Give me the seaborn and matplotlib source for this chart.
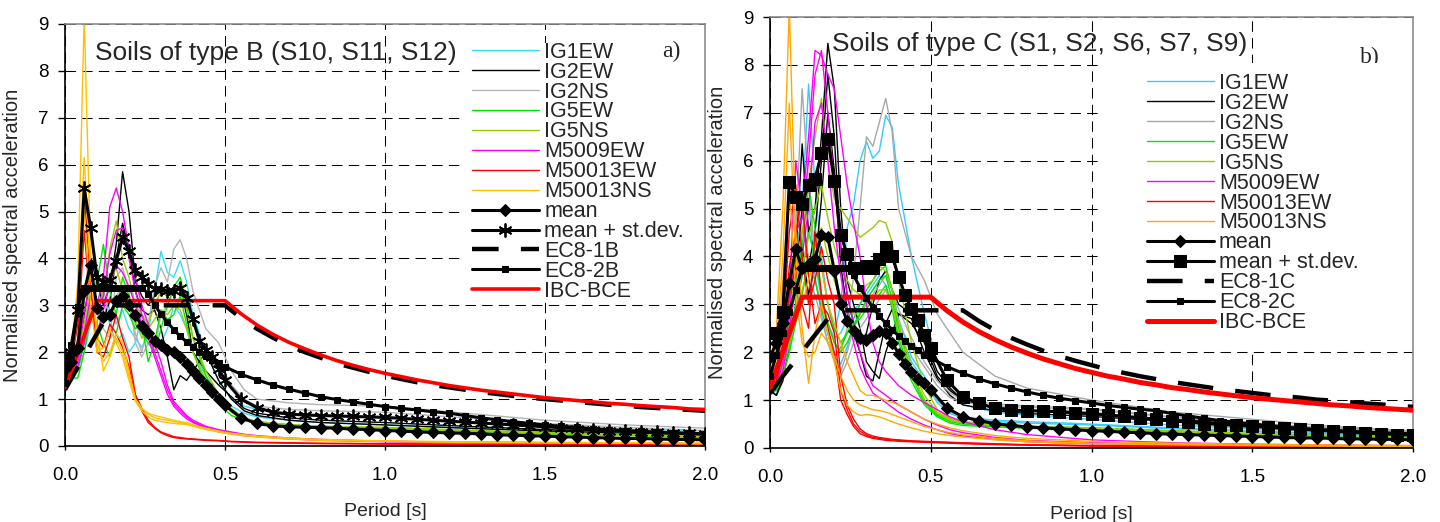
"""
Normalised response spectra of the recorded motions against the code spectra,
soils of type B (left) and type C (right).
"""

import matplotlib
matplotlib.use("Agg")
import matplotlib.pyplot as plt
import seaborn as sns
from matplotlib.patches import Rectangle

sns.set_style("white")
plt.rcParams['font.family'] = ['Liberation Sans', 'DejaVu Sans']

# --- periods [s]
period_rec = [0.0, 0.02, 0.04, 0.06, 0.08, 0.10, 0.12, 0.14, 0.16, 0.18, 0.20, 0.22, 0.24,
              0.26, 0.28, 0.30, 0.32, 0.34, 0.36, 0.38, 0.40, 0.44, 0.48, 0.52, 0.56, 0.60,
              0.70, 0.80, 1.00, 1.25, 1.50, 1.75, 2.00]
period = [0.00, 0.02, 0.04, 0.06, 0.08, 0.10, 0.12, 0.14, 0.16, 0.18, 0.20, 0.22, 0.24,
          0.26, 0.28, 0.30, 0.32, 0.34, 0.36, 0.38, 0.40, 0.42, 0.44, 0.46, 0.48, 0.50,
          0.55, 0.60, 0.65, 0.70, 0.75, 0.80, 0.85, 0.90, 0.95, 1.00,
          1.05, 1.10, 1.15, 1.20, 1.25, 1.30, 1.35, 1.40, 1.45, 1.50,
          1.55, 1.60, 1.65, 1.70, 1.75, 1.80, 1.85, 1.90, 1.95, 2.00]

rec_names = ['IG1EW', 'IG2EW', 'IG2NS', 'IG5EW', 'IG5NS', 'M5009EW', 'M50013EW', 'M50013NS']

# ---------------- soils of type B (S10, S11, S12)
sb_IG1EW = [
    [1.5, 1.6, 1.9, 2.4, 2.8, 3.0, 3.3, 2.9, 2.6, 2.9, 2.5, 2.3, 2.1, 2.4, 3.3, 4.15, 3.7, 3.6, 3.95, 3.5, 2.8,
     2.0, 1.4, 1.0, 0.85, 0.78, 0.7, 0.65, 0.6, 0.5, 0.42, 0.36, 0.32],
    [1.4, 1.5, 1.7, 2.0, 2.6, 3.7, 3.1, 2.6, 2.2, 2.4, 2.0, 2.2, 2.8, 2.5, 2.3, 2.2, 2.5, 3.0, 2.8, 2.5, 2.0,
     1.5, 1.1, 0.85, 0.7, 0.62, 0.55, 0.5, 0.45, 0.38, 0.32, 0.28, 0.25]]
sb_IG2EW = [
    [1.6, 1.7, 2.2, 3.2, 4.0, 3.5, 3.0, 3.4, 4.3, 5.85, 5.0, 3.5, 3.2, 3.0, 3.2, 3.3, 3.2, 3.3, 3.4, 2.8, 2.0,
     1.6, 1.3, 1.05, 0.8, 0.7, 0.6, 0.55, 0.5, 0.42, 0.35, 0.3, 0.25],
    [1.5, 1.6, 2.0, 2.8, 3.6, 3.0, 2.7, 3.1, 4.0, 4.75, 4.2, 3.3, 2.9, 2.8, 2.9, 2.5, 1.9, 1.2, 1.5, 1.4, 1.6,
     2.0, 1.4, 1.0, 0.75, 0.65, 0.55, 0.5, 0.45, 0.38, 0.32, 0.27, 0.22]]
sb_IG2NS = [
    [1.5, 1.6, 2.0, 3.0, 4.5, 3.6, 3.2, 2.8, 3.2, 3.4, 3.0, 2.4, 2.0, 2.6, 3.4, 3.8, 3.5, 4.2, 4.4, 4.0, 3.3,
     2.5, 2.2, 1.6, 1.2, 1.0, 0.92, 0.88, 0.85, 0.7, 0.55, 0.45, 0.38],
    [1.4, 1.5, 1.8, 2.5, 3.2, 2.9, 2.5, 2.3, 3.6, 3.8, 3.3, 2.2, 1.9, 2.2, 2.0, 2.8, 3.0, 3.3, 3.5, 3.1, 2.6,
     2.0, 1.8, 1.3, 1.0, 0.85, 0.78, 0.75, 0.72, 0.6, 0.48, 0.4, 0.33]]
sb_IG5EW = [
    [1.5, 1.45, 1.45, 2.0, 2.8, 3.5, 4.3, 3.3, 2.8, 3.6, 3.2, 2.6, 2.4, 2.2, 2.0, 2.5, 3.0, 3.4, 3.6, 3.0, 2.3,
     1.5, 1.0, 0.75, 0.6, 0.52, 0.45, 0.42, 0.38, 0.32, 0.28, 0.24, 0.2],
    [1.4, 1.5, 1.6, 2.2, 3.0, 2.6, 2.2, 1.9, 2.4, 3.0, 2.8, 2.5, 2.6, 1.8, 2.2, 2.9, 2.7, 2.8, 3.2, 2.6, 2.0,
     1.3, 0.9, 0.65, 0.55, 0.48, 0.42, 0.38, 0.35, 0.3, 0.26, 0.22, 0.18]]
sb_IG5NS = [
    [1.5, 1.6, 1.9, 2.6, 3.4, 3.0, 3.2, 4.2, 4.8, 4.0, 3.6, 3.0, 2.8, 2.6, 3.0, 3.3, 3.2, 3.4, 3.3, 2.9, 2.3,
     1.6, 1.1, 0.8, 0.6, 0.52, 0.46, 0.42, 0.4, 0.34, 0.29, 0.25, 0.21],
    [1.4, 1.5, 1.8, 2.4, 3.0, 2.6, 3.4, 3.5, 3.8, 3.3, 3.1, 2.7, 2.3, 2.5, 2.7, 2.9, 2.8, 3.0, 2.9, 2.5, 2.0,
     1.4, 1.0, 0.72, 0.55, 0.48, 0.43, 0.4, 0.37, 0.32, 0.27, 0.23, 0.2]]
sb_M5009EW = [
    [1.5, 1.6, 2.0, 2.8, 3.6, 3.0, 3.6, 5.1, 5.5, 5.0, 4.2, 3.6, 3.0, 2.6, 2.2, 1.8, 1.3, 0.95, 0.8, 0.65, 0.55,
     0.42, 0.35, 0.3, 0.25, 0.22, 0.17, 0.14, 0.1, 0.08, 0.07, 0.06, 0.05],
    [1.4, 1.5, 1.8, 2.4, 3.2, 2.8, 3.2, 4.1, 4.6, 4.65, 4.0, 3.3, 2.8, 2.4, 2.0, 1.6, 1.2, 0.9, 0.75, 0.62, 0.52,
     0.4, 0.33, 0.28, 0.24, 0.21, 0.16, 0.13, 0.1, 0.08, 0.07, 0.06, 0.05],
    [1.4, 1.5, 1.7, 2.2, 2.8, 2.4, 2.9, 3.5, 3.85, 3.7, 3.4, 3.0, 2.6, 2.3, 1.9, 1.5, 1.1, 0.85, 0.7, 0.58, 0.5,
     0.38, 0.3, 0.26, 0.22, 0.2, 0.15, 0.12, 0.09, 0.07, 0.06, 0.05, 0.04]]
sb_M50013EW = [
    [1.5, 1.8, 2.6, 5.4, 3.5, 2.0, 1.9, 2.3, 2.8, 2.3, 1.9, 1.1, 0.8, 0.55, 0.4, 0.3, 0.25, 0.2, 0.18, 0.16, 0.15,
     0.13, 0.12, 0.1, 0.09, 0.08, 0.07, 0.06, 0.05, 0.04, 0.03, 0.03, 0.02],
    [1.4, 1.7, 2.3, 4.6, 3.0, 2.3, 2.1, 2.6, 2.4, 2.1, 1.7, 1.05, 0.75, 0.5, 0.38, 0.28, 0.22, 0.18, 0.16, 0.15, 0.14,
     0.12, 0.11, 0.09, 0.08, 0.07, 0.06, 0.05, 0.04, 0.03, 0.03, 0.02, 0.02]]
sb_M50013NS = [
    [1.5, 2.0, 3.5, 9.2, 4.0, 2.2, 1.8, 2.0, 2.4, 2.2, 1.6, 1.0, 0.8, 0.7, 0.65, 0.62, 0.58, 0.55, 0.52, 0.5, 0.45,
     0.38, 0.32, 0.27, 0.24, 0.21, 0.17, 0.14, 0.11, 0.09, 0.08, 0.07, 0.06],
    [1.4, 1.9, 3.2, 6.15, 3.6, 2.5, 1.6, 1.9, 2.3, 2.0, 1.5, 1.0, 0.8, 0.68, 0.6, 0.57, 0.55, 0.52, 0.5, 0.48, 0.44,
     0.37, 0.31, 0.26, 0.23, 0.2, 0.16, 0.13, 0.1, 0.08, 0.07, 0.06, 0.05],
    [1.4, 1.8, 2.8, 5.0, 3.0, 2.0, 2.1, 2.5, 2.2, 1.9, 1.4, 0.95, 0.75, 0.62, 0.55, 0.52, 0.5, 0.48, 0.47, 0.46, 0.42,
     0.35, 0.3, 0.25, 0.22, 0.19, 0.15, 0.12, 0.1, 0.08, 0.07, 0.06, 0.05]]

sb_mean = [1.65, 1.80, 2.10, 3.30, 3.85, 2.95, 2.75, 2.80, 3.10, 3.20, 3.00, 2.80, 2.55,
           2.40, 2.25, 2.15, 2.05, 2.00, 1.90, 1.75, 1.60, 1.45, 1.30, 1.15, 1.00, 0.87,
           0.60, 0.48, 0.43, 0.41, 0.40, 0.39, 0.38, 0.36, 0.35, 0.33,
           0.32, 0.30, 0.29, 0.28, 0.27, 0.26, 0.24, 0.23, 0.22, 0.21,
           0.20, 0.19, 0.18, 0.17, 0.16, 0.16, 0.15, 0.14, 0.14, 0.13]
sb_mean_sd = [1.90, 2.00, 2.90, 5.50, 4.65, 3.60, 3.50, 3.55, 3.95, 4.45, 4.15, 3.75, 3.60,
              3.45, 3.35, 3.35, 3.30, 3.30, 3.38, 3.15, 2.70, 2.25, 2.05, 1.90, 1.65, 1.40,
              1.00, 0.82, 0.72, 0.68, 0.66, 0.65, 0.64, 0.63, 0.62, 0.61,
              0.59, 0.57, 0.55, 0.53, 0.51, 0.49, 0.47, 0.45, 0.43, 0.41,
              0.39, 0.37, 0.35, 0.33, 0.32, 0.30, 0.29, 0.28, 0.27, 0.26]
sb_ec8_1 = [1.20, 1.44, 1.68, 1.92, 2.16, 2.40, 2.64, 2.88, 3.00, 3.00, 3.00, 3.00, 3.00,
            3.00, 3.00, 3.00, 3.00, 3.00, 3.00, 3.00, 3.00, 3.00, 3.00, 3.00, 3.00, 3.00,
            2.73, 2.50, 2.31, 2.14, 2.00, 1.88, 1.76, 1.67, 1.58, 1.50,
            1.43, 1.36, 1.30, 1.25, 1.20, 1.15, 1.11, 1.07, 1.03, 1.00,
            0.97, 0.94, 0.91, 0.88, 0.86, 0.83, 0.81, 0.79, 0.77, 0.75]
sb_ec8_2 = [1.35, 2.16, 2.97, 3.375, 3.375, 3.375, 3.375, 3.375, 3.375, 3.375, 3.375, 3.375, 3.375,
            3.25, 3.01, 2.81, 2.64, 2.48, 2.34, 2.22, 2.11, 2.01, 1.92, 1.83, 1.76, 1.69,
            1.53, 1.41, 1.30, 1.21, 1.13, 1.05, 0.99, 0.94, 0.89, 0.84,
            0.80, 0.77, 0.73, 0.70, 0.65, 0.60, 0.56, 0.52, 0.48, 0.45,
            0.42, 0.40, 0.37, 0.35, 0.33, 0.31, 0.30, 0.28, 0.27, 0.25]
sb_ibc = [1.24, 1.61, 1.98, 2.36, 2.73, 3.10, 3.10, 3.10, 3.10, 3.10, 3.10, 3.10, 3.10,
          3.10, 3.10, 3.10, 3.10, 3.10, 3.10, 3.10, 3.10, 3.10, 3.10, 3.10, 3.10, 3.10,
          2.82, 2.58, 2.38, 2.21, 2.07, 1.94, 1.82, 1.72, 1.63, 1.55,
          1.48, 1.41, 1.35, 1.29, 1.24, 1.19, 1.15, 1.11, 1.07, 1.03,
          1.00, 0.97, 0.94, 0.91, 0.89, 0.86, 0.84, 0.82, 0.79, 0.78]

# ---------------- soils of type C (S1, S2, S6, S7, S9)
sc_IG1EW = [
    [1.2, 1.3, 1.8, 2.8, 4.0, 5.0, 7.6, 5.5, 4.0, 3.0, 2.4, 3.0, 4.6, 5.1, 6.0, 6.4, 6.05, 6.2, 6.95, 6.7, 5.5,
     4.0, 2.8, 1.8, 1.25, 0.9, 0.75, 0.68, 0.6, 0.48, 0.4, 0.34, 0.3],
    [1.15, 1.2, 1.6, 2.4, 3.4, 4.5, 5.2, 3.6, 2.8, 2.2, 1.9, 1.75, 2.1, 2.6, 2.8, 3.1, 3.3, 3.5, 3.7, 3.3, 2.7,
     1.9, 1.5, 1.0, 0.75, 0.65, 0.58, 0.55, 0.5, 0.42, 0.36, 0.3, 0.26],
    [1.1, 1.2, 1.5, 2.0, 2.8, 3.6, 4.6, 3.9, 3.1, 2.6, 2.3, 2.4, 2.7, 2.9, 3.0, 3.2, 3.4, 3.6, 3.4, 3.0, 2.5,
     1.8, 1.4, 0.95, 0.72, 0.62, 0.55, 0.52, 0.48, 0.4, 0.34, 0.29, 0.25]]
sc_IG2EW = [
    [1.3, 1.2, 1.6, 2.8, 4.0, 6.35, 4.5, 5.0, 6.5, 8.45, 7.5, 5.0, 3.5, 3.0, 2.5, 1.8, 1.6, 1.45, 2.0, 2.4, 2.8,
     2.6, 2.2, 1.5, 1.2, 1.0, 0.85, 0.78, 0.7, 0.58, 0.48, 0.4, 0.34],
    [1.2, 1.1, 1.5, 2.5, 3.5, 5.0, 3.8, 4.5, 6.0, 7.8, 6.5, 4.2, 3.2, 2.6, 2.2, 2.4, 3.0, 3.5, 3.7, 3.3, 3.0,
     2.8, 2.3, 1.6, 1.25, 1.0, 0.85, 0.78, 0.72, 0.6, 0.5, 0.42, 0.35],
    [1.2, 1.1, 1.4, 2.2, 3.0, 4.2, 3.2, 3.8, 5.2, 7.0, 5.8, 3.8, 2.9, 2.4, 2.0, 1.5, 1.4, 2.0, 2.6, 2.9, 2.8,
     2.7, 2.0, 1.45, 1.1, 0.9, 0.78, 0.72, 0.66, 0.55, 0.46, 0.38, 0.32]]
sc_IG2NS = [
    [1.3, 1.4, 1.9, 3.0, 4.5, 7.5, 5.5, 4.0, 3.2, 2.6, 2.2, 2.0, 2.5, 3.6, 5.0, 6.5, 6.3, 6.8, 7.3, 6.6, 5.0,
     4.0, 3.5, 2.8, 2.4, 2.0, 1.5, 1.25, 1.0, 0.75, 0.6, 0.45, 0.36],
    [1.2, 1.3, 1.7, 2.5, 3.5, 4.6, 4.0, 3.5, 3.0, 2.4, 1.9, 1.6, 2.0, 2.5, 2.8, 3.0, 3.2, 3.4, 3.6, 3.3, 2.9,
     2.3, 1.8, 1.4, 1.15, 1.0, 0.92, 0.88, 0.82, 0.65, 0.52, 0.42, 0.35],
    [1.2, 1.3, 1.6, 2.2, 3.0, 4.0, 3.6, 3.2, 2.7, 2.2, 1.8, 1.5, 1.8, 2.2, 2.5, 2.7, 2.9, 3.1, 3.3, 3.0, 2.6,
     2.1, 1.7, 1.3, 1.05, 0.95, 0.88, 0.85, 0.8, 0.64, 0.5, 0.4, 0.34]]
sc_IG5EW = [
    [1.3, 1.4, 1.8, 2.6, 3.5, 4.2, 5.5, 4.6, 3.8, 3.0, 2.5, 2.2, 2.4, 2.7, 3.0, 3.3, 3.5, 3.7, 3.8, 3.3, 2.5,
     1.6, 1.0, 0.7, 0.58, 0.52, 0.48, 0.45, 0.42, 0.36, 0.3, 0.26, 0.23],
    [1.2, 1.3, 1.6, 2.2, 3.0, 3.6, 4.5, 4.0, 3.2, 2.6, 2.2, 2.0, 2.2, 2.5, 2.8, 3.1, 3.3, 3.5, 3.6, 3.1, 2.3,
     1.5, 0.95, 0.68, 0.55, 0.5, 0.46, 0.43, 0.4, 0.34, 0.29, 0.25, 0.22],
    [1.2, 1.2, 1.5, 2.0, 2.6, 3.2, 3.9, 3.5, 2.9, 2.4, 1.9, 2.1, 2.4, 2.6, 2.7, 2.9, 3.1, 3.2, 3.4, 2.9, 2.2,
     1.4, 0.9, 0.65, 0.52, 0.47, 0.44, 0.41, 0.38, 0.33, 0.28, 0.24, 0.21]]
sc_IG5NS = [
    [1.4, 1.5, 2.0, 2.8, 3.8, 4.5, 5.5, 6.5, 7.3, 6.0, 5.2, 5.0, 4.8, 4.6, 4.4, 4.5, 4.6, 4.75, 4.7, 4.3, 3.5,
     2.2, 1.3, 0.8, 0.62, 0.55, 0.5, 0.46, 0.42, 0.36, 0.3, 0.26, 0.22],
    [1.3, 1.4, 1.8, 2.5, 3.3, 3.8, 4.4, 5.0, 5.5, 4.8, 4.2, 3.8, 3.5, 3.3, 3.2, 3.4, 3.5, 3.8, 3.7, 3.3, 2.6,
     1.7, 1.1, 0.75, 0.6, 0.53, 0.48, 0.44, 0.4, 0.34, 0.29, 0.25, 0.21],
    [1.2, 1.3, 1.6, 2.2, 2.9, 3.3, 3.8, 4.2, 4.6, 4.0, 3.5, 3.1, 2.9, 2.8, 2.8, 3.0, 3.1, 3.3, 3.3, 3.0, 2.4,
     1.6, 1.0, 0.72, 0.58, 0.52, 0.47, 0.43, 0.39, 0.33, 0.28, 0.24, 0.2]]
sc_M5009EW = [
    [1.3, 1.4, 2.0, 3.2, 6.0, 5.0, 6.5, 8.3, 8.2, 7.8, 7.5, 6.5, 5.5, 4.7, 4.0, 3.0, 2.2, 1.8, 1.6, 1.45, 1.3,
     1.1, 0.95, 0.8, 0.65, 0.55, 0.38, 0.28, 0.17, 0.11, 0.08, 0.06, 0.05],
    [1.2, 1.3, 1.8, 2.8, 4.5, 4.8, 6.0, 7.8, 8.3, 7.0, 5.5, 4.2, 3.2, 2.6, 2.0, 1.6, 1.3, 1.2, 1.1, 1.0, 0.9,
     0.75, 0.6, 0.48, 0.38, 0.32, 0.22, 0.16, 0.11, 0.08, 0.06, 0.05, 0.04],
    [1.2, 1.3, 1.6, 2.4, 3.6, 4.0, 5.0, 6.8, 7.2, 6.0, 4.6, 3.6, 2.8, 2.2, 1.7, 1.4, 1.15, 1.05, 0.95, 0.85, 0.75,
     0.6, 0.48, 0.38, 0.3, 0.25, 0.18, 0.13, 0.09, 0.07, 0.05, 0.04, 0.03]]
sc_M50013EW = [
    [1.2, 1.6, 2.5, 4.5, 5.5, 4.0, 3.0, 3.5, 4.2, 3.5, 3.0, 1.5, 0.9, 0.6, 0.4, 0.3, 0.25, 0.22, 0.2, 0.18, 0.17,
     0.15, 0.14, 0.13, 0.12, 0.11, 0.09, 0.07, 0.05, 0.04, 0.03, 0.03, 0.02],
    [1.2, 1.5, 2.2, 3.8, 4.5, 5.2, 3.6, 2.6, 3.0, 2.8, 2.4, 1.2, 0.8, 0.5, 0.35, 0.27, 0.22, 0.2, 0.18, 0.17, 0.16,
     0.14, 0.13, 0.12, 0.11, 0.1, 0.08, 0.06, 0.05, 0.04, 0.03, 0.02, 0.02],
    [1.1, 1.4, 2.0, 3.2, 3.8, 3.0, 2.5, 4.5, 3.2, 2.5, 2.0, 1.0, 0.7, 0.45, 0.3, 0.24, 0.2, 0.18, 0.16, 0.15, 0.14,
     0.13, 0.12, 0.11, 0.1, 0.09, 0.07, 0.06, 0.04, 0.03, 0.03, 0.02, 0.02]]
sc_M50013NS = [
    [1.3, 2.5, 5.0, 9.2, 4.5, 3.0, 3.5, 4.0, 3.8, 3.0, 2.6, 2.2, 1.8, 1.5, 1.2, 1.1, 1.1, 1.05, 1.0, 0.95, 0.9,
     0.75, 0.6, 0.5, 0.42, 0.36, 0.26, 0.2, 0.14, 0.1, 0.08, 0.06, 0.05],
    [1.25, 2.2, 4.0, 7.2, 4.0, 2.5, 1.35, 2.4, 3.0, 2.4, 1.8, 1.2, 0.9, 0.75, 0.68, 0.7, 0.68, 0.65, 0.6, 0.55, 0.5,
     0.42, 0.35, 0.3, 0.26, 0.23, 0.17, 0.13, 0.09, 0.07, 0.05, 0.04, 0.03],
    [1.2, 2.0, 3.5, 5.5, 3.2, 2.2, 1.9, 2.0, 2.4, 2.2, 1.9, 1.5, 1.2, 1.0, 0.9, 0.85, 0.8, 0.78, 0.75, 0.7, 0.65,
     0.55, 0.45, 0.38, 0.32, 0.28, 0.2, 0.15, 0.1, 0.08, 0.06, 0.05, 0.04]]

sc_mean = [1.90, 2.20, 2.60, 3.45, 4.15, 3.75, 3.85, 3.95, 4.45, 4.40, 3.70, 3.00, 2.65,
           2.45, 2.30, 2.25, 2.35, 2.45, 2.40, 2.20, 1.97, 1.75, 1.58, 1.45, 1.35, 1.22,
           0.84, 0.65, 0.57, 0.51, 0.47, 0.44, 0.42, 0.40, 0.38, 0.36,
           0.35, 0.33, 0.32, 0.30, 0.29, 0.28, 0.27, 0.26, 0.25, 0.24,
           0.23, 0.22, 0.21, 0.21, 0.20, 0.19, 0.19, 0.18, 0.18, 0.17]
sc_mean_sd = [2.40, 2.40, 2.85, 5.55, 5.25, 5.10, 5.50, 5.62, 6.15, 6.45, 5.57, 4.45, 4.05,
              3.75, 3.75, 3.80, 3.75, 3.95, 4.20, 4.00, 3.58, 3.20, 2.90, 2.67, 2.36, 2.08,
              1.42, 1.07, 0.93, 0.83, 0.79, 0.78, 0.77, 0.76, 0.74, 0.72,
              0.69, 0.66, 0.63, 0.60, 0.57, 0.54, 0.51, 0.49, 0.47, 0.45,
              0.43, 0.41, 0.39, 0.37, 0.35, 0.33, 0.31, 0.30, 0.28, 0.27]
sc_ec8_1 = [1.15, 1.32, 1.50, 1.67, 1.84, 2.01, 2.19, 2.36, 2.53, 2.70, 2.875, 2.875, 2.875,
            2.875, 2.875, 2.875, 2.875, 2.875, 2.875, 2.875, 2.875, 2.875, 2.875, 2.875, 2.875, 2.875,
            2.875, 2.875, 2.65, 2.46, 2.30, 2.16, 2.03, 1.92, 1.82, 1.73,
            1.64, 1.57, 1.50, 1.44, 1.38, 1.33, 1.28, 1.23, 1.19, 1.15,
            1.11, 1.08, 1.05, 1.01, 0.99, 0.96, 0.93, 0.91, 0.88, 0.86]
sc_ec8_2 = [1.50, 1.95, 2.40, 2.85, 3.30, 3.75, 3.75, 3.75, 3.75, 3.75, 3.75, 3.75, 3.75,
            3.61, 3.35, 3.13, 2.93, 2.76, 2.60, 2.47, 2.34, 2.23, 2.13, 2.04, 1.95, 1.88,
            1.70, 1.56, 1.44, 1.34, 1.25, 1.17, 1.10, 1.04, 0.99, 0.94,
            0.89, 0.85, 0.81, 0.78, 0.72, 0.67, 0.62, 0.57, 0.54, 0.50,
            0.47, 0.44, 0.41, 0.39, 0.37, 0.35, 0.33, 0.31, 0.30, 0.28]
sc_ibc = [1.26, 1.64, 2.02, 2.39, 2.77, 3.15, 3.15, 3.15, 3.15, 3.15, 3.15, 3.15, 3.15,
          3.15, 3.15, 3.15, 3.15, 3.15, 3.15, 3.15, 3.15, 3.15, 3.15, 3.15, 3.15, 3.15,
          2.87, 2.63, 2.43, 2.26, 2.11, 1.98, 1.86, 1.76, 1.66, 1.58,
          1.50, 1.44, 1.37, 1.32, 1.26, 1.22, 1.17, 1.13, 1.09, 1.05,
          1.02, 0.99, 0.96, 0.93, 0.90, 0.88, 0.85, 0.83, 0.81, 0.79]

xticks = [0.0, 0.5, 1.0, 1.5, 2.0]
xtick_labels = ['0.0', '0.5', '1.0', '1.5', '2.0']
yticks = [0, 1, 2, 3, 4, 5, 6, 7, 8, 9]


def draw_panel(ax, recs, colors, mean, mean_sd, sd_marker, ec1, ec2, ibc,
               code_names, title, title_xy, tag, tag_xy, tag_z, box, leg_xy,
               ibc_lw, ec1_dash):
    handles = []
    for name, col in zip(rec_names, colors):
        for i, curve in enumerate(recs[name]):
            sns.lineplot(x=period_rec, y=curve, ax=ax, color=col, lw=1.0,
                         estimator=None, legend=False, zorder=2)
            if i == 0:
                handles.append(ax.lines[-1])

    sns.lineplot(x=period, y=mean, ax=ax, color='black', lw=2.2, marker='D',
                 markersize=6.5, markeredgecolor='black', estimator=None,
                 legend=False, zorder=3.6)
    h_mean = ax.lines[-1]
    if sd_marker == 'star':
        sns.lineplot(x=period, y=mean_sd, ax=ax, color='black', lw=2.2,
                     marker=(6, 2, 0), markersize=10, markeredgewidth=1.3,
                     markeredgecolor='black', estimator=None, legend=False, zorder=3.8)
    else:
        sns.lineplot(x=period, y=mean_sd, ax=ax, color='black', lw=2.2, marker='s',
                     markersize=8.5, markeredgecolor='black', estimator=None,
                     legend=False, zorder=3.8)
    h_sd = ax.lines[-1]

    sns.lineplot(x=period, y=ec1, ax=ax, color='black', lw=3.2, estimator=None,
                 legend=False, zorder=3.0)
    h_ec1 = ax.lines[-1]
    h_ec1.set_dashes(ec1_dash)
    sns.lineplot(x=period, y=ibc, ax=ax, color='#ff0000', lw=ibc_lw, estimator=None,
                 legend=False, zorder=3.2)
    h_ibc = ax.lines[-1]
    sns.lineplot(x=period, y=ec2, ax=ax, color='black', lw=2.2, marker='s',
                 markersize=4, markeredgecolor='black', estimator=None,
                 legend=False, zorder=3.4)
    h_ec2 = ax.lines[-1]

    handles += [h_mean, h_sd, h_ec1, h_ec2, h_ibc]
    labels = rec_names + ['mean', 'mean + st.dev.'] + code_names

    # white box behind the legend hides the grid there
    ax.add_patch(Rectangle((box[0], box[1]), box[2], box[3], transform=ax.transAxes,
                           facecolor='white', edgecolor='none', zorder=1))
    ax.legend(handles, labels, loc='upper left', bbox_to_anchor=leg_xy,
              borderaxespad=0, borderpad=0, frameon=False, fontsize=15.5,
              handlelength=3.1, handletextpad=0.25, labelspacing=-0.05)

    ax.text(title_xy[0], title_xy[1], title, transform=ax.transAxes, fontsize=19,
            va='baseline', ha='left', zorder=6)
    ax.text(tag_xy[0], tag_xy[1], tag, transform=ax.transAxes, fontsize=17,
            family='Liberation Serif', va='center', ha='center', zorder=tag_z)

    ax.set_xlim(0, 2.0)
    ax.set_ylim(0, 9)
    ax.set_xticks(xticks)
    ax.set_xticklabels(xtick_labels)
    ax.set_yticks(yticks)
    ax.set_axisbelow(True)
    ax.grid(True, color='black', lw=0.75, linestyle=(0, (10, 6)))
    ax.tick_params(axis='both', labelsize=13.5, colors='black')
    ax.tick_params(axis='y', left=True, direction='out', length=5, width=1, pad=7)
    ax.tick_params(axis='x', bottom=True, direction='out', length=3, width=1, pad=12)
    for side in ['top', 'right']:
        ax.spines[side].set_color('#8c8c8c')
        ax.spines[side].set_linewidth(1.2)
    for side in ['left', 'bottom']:
        ax.spines[side].set_color('black')
        ax.spines[side].set_linewidth(1.2)

    ax.set_xlabel('Period [s]', fontsize=14)
    ax.set_ylabel('Normalised spectral acceleration', fontsize=14.5)
    ax.xaxis.set_label_coords(0.5, -0.135)
    ax.yaxis.set_label_coords(-0.067, 0.5)


fig = plt.figure(figsize=(14.4, 5.22), dpi=100)
ax1 = fig.add_axes([65 / 1440, 1 - 446 / 522, 640 / 1440, 422 / 522])
ax2 = fig.add_axes([770 / 1440, 1 - 448 / 522, 643 / 1440, 431 / 522])

recs_b = dict(zip(rec_names, [sb_IG1EW, sb_IG2EW, sb_IG2NS, sb_IG5EW, sb_IG5NS,
                              sb_M5009EW, sb_M50013EW, sb_M50013NS]))
recs_c = dict(zip(rec_names, [sc_IG1EW, sc_IG2EW, sc_IG2NS, sc_IG5EW, sc_IG5NS,
                              sc_M5009EW, sc_M50013EW, sc_M50013NS]))
colors_b = ['#33ddff', '#000000', '#b4b4b4', '#00e600', '#99cc00', '#ff00ff', '#ff0000', '#ffc000']
colors_c = ['#33ccff', '#000000', '#a8a8a8', '#00e600', '#99cc00', '#ff00ff', '#ff0000', '#ffaa00']

draw_panel(ax1, recs_b, colors_b, sb_mean, sb_mean_sd, 'star', sb_ec8_1, sb_ec8_2, sb_ibc,
           ['EC8-1B', 'EC8-2B', 'IBC-BCE'], 'Soils of type B (S10, S11, S12)', (0.047, 0.915),
           'a)', (0.947, 0.934), 6, (0.625, 0.346, 0.375, 0.609), (0.636, 0.958),
           2.6, (6, 5))
draw_panel(ax2, recs_c, colors_c, sc_mean, sc_mean_sd, 'square', sc_ec8_1, sc_ec8_2, sc_ibc,
           ['EC8-1C', 'EC8-2C', 'IBC-BCE'], 'Soils of type C (S1, S2, S6, S7, S9)', (0.096, 0.921),
           'b)', (0.933, 0.905), 0.9, (0.513, 0.227, 0.487, 0.666), (0.586, 0.870),
           3.6, (8, 5))

fig.savefig('out.png', dpi=100)
